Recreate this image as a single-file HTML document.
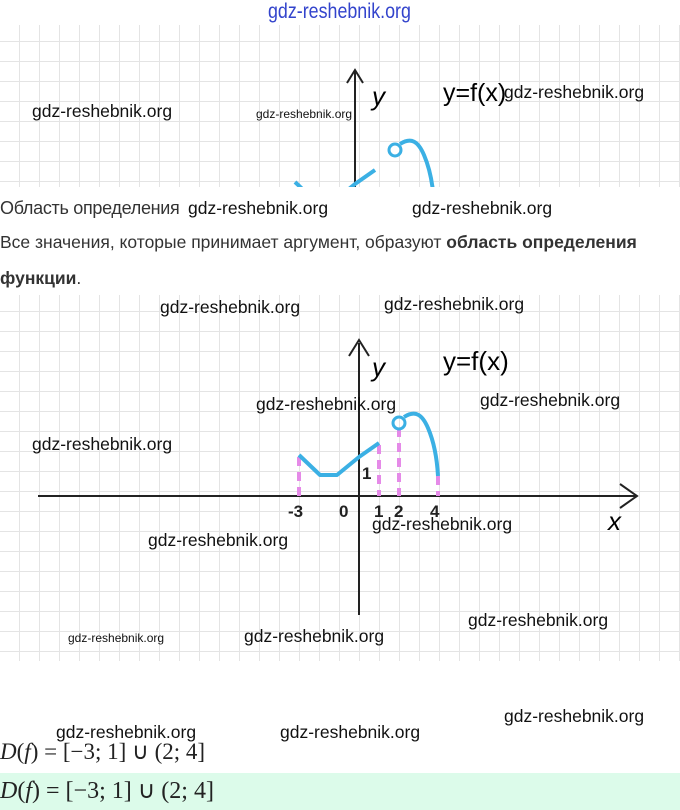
<!DOCTYPE html>
<html><head><meta charset="utf-8"><style>
body{margin:0;width:680px;height:810px;position:relative;background:#fff;font-family:"Liberation Sans",sans-serif;overflow:hidden}
.a{position:absolute;white-space:nowrap}
.w{font-family:"Liberation Sans",sans-serif;font-size:17.5px;color:#111;position:absolute;white-space:nowrap}
.s{font-size:12px}
.grid{position:absolute;left:0;width:680px;background-color:#fff;background-image:linear-gradient(#e4e4e4 1px,transparent 1px),linear-gradient(90deg,#e4e4e4 1px,transparent 1px);background-size:20px 20px;background-position:-1px -4px;overflow:hidden}
.m{font-family:"Liberation Serif",serif;color:#222}
</style></head><body>
<div class="a" style="left:268px;top:0px;font-size:21px;color:#3344cc;transform:scaleX(0.85);transform-origin:left">gdz-reshebnik.org</div>

<div class="grid" style="top:25px;height:162px">
<svg width="680" height="162" style="position:absolute;left:0;top:0">
<g transform="translate(-4,-298)">
<line x1="359" y1="345" x2="359" y2="620" stroke="#222" stroke-width="2"/>
<polyline points="351,356 359,343 367,356" fill="none" stroke="#222" stroke-width="2"/>
<polyline points="299,455 320,475 337,475 359,457 379,443" fill="none" stroke="#3bb0e4" stroke-width="4" stroke-linejoin="round"/>
<circle cx="399" cy="423" r="6" fill="none" stroke="#3bb0e4" stroke-width="3"/>
<path d="M404,417 C415,410 422,414 428,428 C434,442 437,458 438,476" fill="none" stroke="#3bb0e4" stroke-width="4"/>
</g>
<text x="372" y="80" font-size="26" font-style="italic" font-family="Liberation Sans">y</text>
<text x="443" y="76" font-size="25" font-family="Liberation Sans">y=f(x)</text>
</svg>
</div>
<div class="w" style="left:32px;top:101px">gdz-reshebnik.org</div>
<div class="w s" style="left:256px;top:107px">gdz-reshebnik.org</div>
<div class="w" style="left:504px;top:82px">gdz-reshebnik.org</div>

<div class="a" style="left:0;top:198px;font-size:18px;color:#333;letter-spacing:-0.3px">Область определения</div>
<div class="w" style="left:188px;top:198px">gdz-reshebnik.org</div>
<div class="w" style="left:412px;top:198px">gdz-reshebnik.org</div>
<div class="a" style="left:0;top:232px;font-size:17.5px;color:#333">Все значения, которые принимает аргумент, образуют <b>область определения</b></div>
<div class="a" style="left:0;top:268px;font-size:17.5px;color:#333"><b>функции</b>.</div>

<div class="grid" style="top:295px;height:366px">
<svg width="680" height="366" style="position:absolute;left:0;top:0">
<g transform="translate(0,-295)">
<line x1="359" y1="343" x2="359" y2="615" stroke="#222" stroke-width="2"/>
<polyline points="349,356 359,340 369,356" fill="none" stroke="#222" stroke-width="2"/>
<line x1="38" y1="496" x2="636" y2="496" stroke="#222" stroke-width="2"/>
<polyline points="620,484 637,496 620,508" fill="none" stroke="#222" stroke-width="2"/>
<g stroke="#e58ae8" stroke-width="4" stroke-dasharray="9,6">
<line x1="299" y1="457" x2="299" y2="496"/><line x1="379" y1="445" x2="379" y2="496"/>
<line x1="399" y1="428" x2="399" y2="496"/><line x1="438" y1="476" x2="438" y2="496"/>
</g>
<polyline points="299,455 320,475 337,475 359,457 379,443" fill="none" stroke="#3bb0e4" stroke-width="4" stroke-linejoin="round"/>
<circle cx="399" cy="423" r="6" fill="none" stroke="#3bb0e4" stroke-width="3"/>
<path d="M404,417 C415,410 422,414 428,428 C434,442 437,458 438,476" fill="none" stroke="#3bb0e4" stroke-width="4"/>
<g font-family="Liberation Sans" font-size="17" font-weight="bold" fill="#222">
<text x="288" y="517">-3</text><text x="339" y="517">0</text><text x="374" y="517">1</text><text x="394" y="517">2</text><text x="430" y="517">4</text><text x="362" y="479">1</text>
</g>
<text x="372" y="376" font-size="26" font-style="italic" font-family="Liberation Sans">y</text>
<text x="443" y="370" font-size="26" font-family="Liberation Sans">y=f(x)</text>
<text x="608" y="530" font-size="26" font-style="italic" font-family="Liberation Sans">x</text>
</g>
</svg>
</div>
<div class="w" style="left:160px;top:297px">gdz-reshebnik.org</div>
<div class="w" style="left:384px;top:294px">gdz-reshebnik.org</div>
<div class="w" style="left:256px;top:394px">gdz-reshebnik.org</div>
<div class="w" style="left:480px;top:390px">gdz-reshebnik.org</div>
<div class="w" style="left:32px;top:434px">gdz-reshebnik.org</div>
<div class="w" style="left:372px;top:514px">gdz-reshebnik.org</div>
<div class="w" style="left:148px;top:530px">gdz-reshebnik.org</div>
<div class="w" style="left:468px;top:610px">gdz-reshebnik.org</div>
<div class="w s" style="left:68px;top:631px">gdz-reshebnik.org</div>
<div class="w" style="left:244px;top:626px">gdz-reshebnik.org</div>

<div class="w" style="left:504px;top:706px">gdz-reshebnik.org</div>
<div class="w" style="left:56px;top:722px">gdz-reshebnik.org</div>
<div class="w" style="left:280px;top:722px">gdz-reshebnik.org</div>
<div class="a m" style="left:0;top:739px;font-size:23px"><i>D</i>(<i>f</i>) = [−3; 1] ∪ (2; 4]</div>
<div style="position:absolute;left:0;top:773px;width:680px;height:37px;background:#dcfbea"></div>
<div class="a m" style="left:0;top:776px;font-size:24px"><i>D</i>(<i>f</i>) = [−3; 1] ∪ (2; 4]</div>
</body></html>
